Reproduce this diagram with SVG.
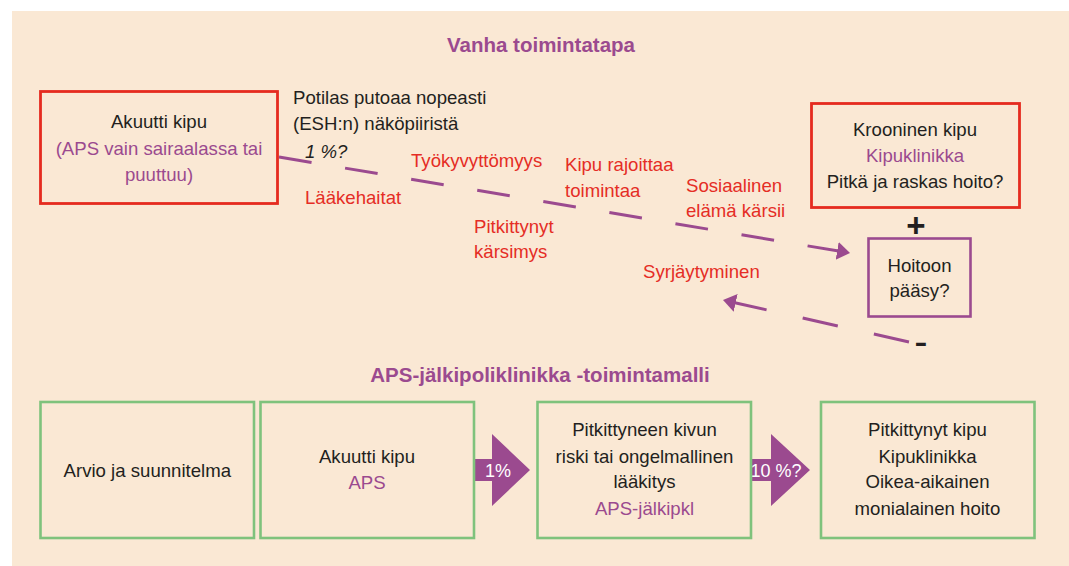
<svg xmlns="http://www.w3.org/2000/svg" width="1069" height="566" viewBox="0 0 1069 566">
<defs>
<style>
text{font-family:"Liberation Sans",Arial,sans-serif;font-size:18.6px;fill:#231f20;}
.c{text-anchor:middle;}
.p{fill:#9b4a8f;}
.r{fill:#e52d25;}
.i{font-style:italic;}
.t{font-weight:bold;font-size:20.5px;fill:#9b4a8f;text-anchor:middle;}
.w{fill:#ffffff;font-size:18px;text-anchor:middle;}
.plus{font-size:33px;font-weight:bold;text-anchor:middle;}
.minus{font-size:40px;text-anchor:middle;}
.red{fill:none;stroke:#e52b1f;stroke-width:2.8;}
.grn{fill:none;stroke:#7fc27c;stroke-width:2.6;}
.pur{fill:none;stroke:#9b4a8f;stroke-width:2.6;}
.dash{fill:none;stroke:#9b4a8f;stroke-width:3;}
.blk{fill:#9b4a8f;}
</style>
<marker id="ah" markerUnits="userSpaceOnUse" markerWidth="14" markerHeight="20" refX="13" refY="9" orient="auto">
<path d="M0,0 L13,9 L0,18 z" fill="#9b4a8f"/>
</marker>
</defs>
<rect x="12" y="11" width="1057" height="555" fill="#fae8d4"/>

<text class="t" x="541" y="52">Vanha toimintatapa</text>
<text class="t" x="540" y="382">APS-jälkipoliklinikka -toimintamalli</text>

<g id="connectors">
<path class="dash" d="M279,157 L850,253" stroke-dasharray="33 34" marker-end="url(#ah)"/>
<path class="dash" d="M909,342 L723,300" stroke-dasharray="36 37" marker-end="url(#ah)"/>
<g id="arrow1">
<path class="blk" d="M474,459 L492,459 L492,434 L530,470 L492,506 L492,481 L474,481 z"/>
<text class="w" x="498" y="477">1%</text>
</g>
<g id="arrow2">
<path class="blk" d="M751,459 L771,459 L771,434 L810,470 L771,506 L771,481 L751,481 z"/>
<text class="w" x="776" y="477">10 %?</text>
</g>
</g>

<g id="labels">
<text x="293" y="104">Potilas putoaa nopeasti</text>
<text x="293" y="130">(ESH:n) näköpiiristä</text>
<text class="i" x="305" y="158">1 %?</text>
<text class="r" x="305" y="204">Lääkehaitat</text>
<text class="r" x="411" y="167">Työkyvyttömyys</text>
<text class="r" x="474" y="233">Pitkittynyt</text>
<text class="r" x="474" y="258">kärsimys</text>
<text class="r" x="565" y="171">Kipu rajoittaa</text>
<text class="r" x="565" y="197">toimintaa</text>
<text class="r" x="686" y="192">Sosiaalinen</text>
<text class="r" x="686" y="217">elämä kärsii</text>
<text class="r" x="643" y="278">Syrjäytyminen</text>
<text class="plus" x="916" y="237">+</text>
<text class="minus" x="921" y="355">-</text>
</g>

<g id="akuutti">
<rect class="red" x="40.5" y="91.5" width="237" height="112"/>
<text class="c" x="159" y="128">Akuutti kipu</text>
<text class="c p" x="159" y="155">(APS vain sairaalassa tai</text>
<text class="c p" x="159" y="181">puuttuu)</text>
</g>

<g id="krooninen">
<rect class="red" x="811.5" y="103.5" width="208" height="104"/>
<text class="c" x="915" y="136">Krooninen kipu</text>
<text class="c p" x="915" y="162">Kipuklinikka</text>
<text class="c" x="915" y="188">Pitkä ja raskas hoito?</text>
</g>

<g id="hoitoon">
<rect class="pur" x="868.5" y="238.5" width="102" height="78"/>
<text class="c" x="919.5" y="272">Hoitoon</text>
<text class="c" x="919.5" y="297">pääsy?</text>
</g>

<g id="arvio">
<rect class="grn" x="40.5" y="402" width="213.5" height="136"/>
<text class="c" x="147.3" y="477">Arvio ja suunnitelma</text>
</g>

<g id="aps">
<rect class="grn" x="260.5" y="402" width="213.5" height="136"/>
<text class="c" x="367" y="463">Akuutti kipu</text>
<text class="c p" x="367" y="489">APS</text>
</g>

<g id="jalkipkl">
<rect class="grn" x="537.5" y="402" width="213.5" height="136"/>
<text class="c" x="644.5" y="436">Pitkittyneen kivun</text>
<text class="c" x="644.5" y="463">riski tai ongelmallinen</text>
<text class="c" x="644.5" y="488">lääkitys</text>
<text class="c p" x="644.5" y="515">APS-jälkipkl</text>
</g>

<g id="kipuklinikka">
<rect class="grn" x="821" y="402" width="213.5" height="136"/>
<text class="c" x="927.5" y="436">Pitkittynyt kipu</text>
<text class="c" x="927.5" y="463">Kipuklinikka</text>
<text class="c" x="927.5" y="488">Oikea-aikainen</text>
<text class="c" x="927.5" y="515">monialainen hoito</text>
</g>
</svg>
